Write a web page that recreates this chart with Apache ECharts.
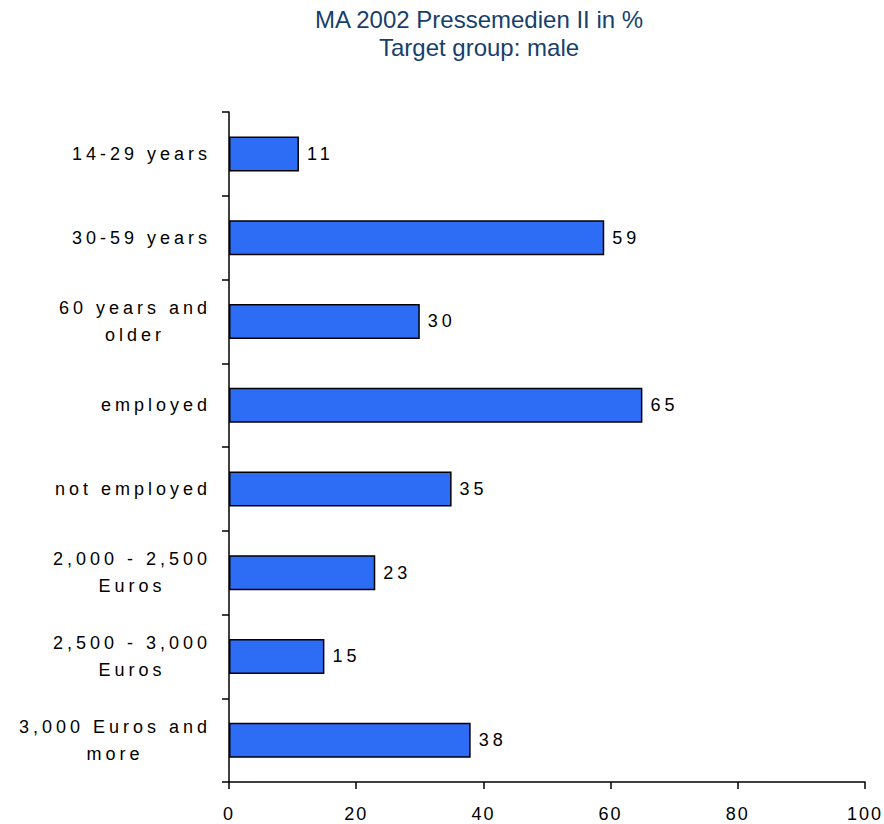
<!DOCTYPE html>
<html>
<head>
<meta charset="utf-8">
<script src="https://cdn.jsdelivr.net/npm/echarts@6/dist/echarts.min.js"></script>
<style>
  html, body { margin: 0; padding: 0; background: #fff; }
  #chart { width: 884px; height: 824px; }
  /* the source chart draws its axis texts with wide letter spacing */
  #chart svg text:not([fill="#173f6e"]) { letter-spacing: 4px; }
  #chart svg text[fill="#000001"] { letter-spacing: 2px; }
</style>
</head>
<body>
<div id="chart"></div>
<script>
const categories = [
  '14-29 years',
  '30-59 years',
  '60 years and\nolder',
  'employed',
  'not employed',
  '2,000 - 2,500\nEuros',
  '2,500 - 3,000\nEuros',
  '3,000 Euros and\nmore'
]
const values = [11, 59, 30, 65, 35, 23, 15, 38]
const xTicks = [0, 20, 40, 60, 80, 100]

const FONT = 'Liberation Sans, Arial, sans-serif'
const LS = 4 // letter spacing, see css

// width of each category label, so wrapped lines can be centred on each other
const ctx = document.createElement('canvas').getContext('2d')
ctx.font = '18px "Liberation Sans"'
const rich = {}
categories.forEach((c, i) => {
  const w = Math.max(...c.split('\n').map(l => ctx.measureText(l).width + LS * l.length))
  rich['c' + i] = { width: w, align: 'center', fontSize: 18, lineHeight: 27, color: '#000', fontFamily: FONT }
})

const chart = echarts.init(document.getElementById('chart'), null, { renderer: 'svg' })
chart.setOption({
  animation: false,
  title: {
    text: 'MA 2002 Pressemedien II in %\nTarget group: male',
    left: 479,
    top: 5,
    padding: 0,
    textAlign: 'center',
    textStyle: {
      color: '#173f6e',
      fontFamily: FONT,
      fontSize: 24,
      fontWeight: 'normal',
      lineHeight: 28
    }
  },
  grid: { left: 229, right: 19, top: 112, bottom: 42 },
  xAxis: {
    type: 'value',
    min: xTicks[0],
    max: xTicks[xTicks.length - 1],
    interval: 20,
    splitLine: { show: false },
    axisLine: { show: true, lineStyle: { color: '#000', width: 1.5 } },
    axisTick: { show: true, length: 7, lineStyle: { color: '#000', width: 1.5 } },
    axisLabel: { color: '#000001', fontSize: 18, fontFamily: FONT, margin: 23 }
  },
  yAxis: {
    type: 'category',
    data: categories,
    inverse: true,
    axisLine: { show: true, lineStyle: { color: '#000', width: 1.5 } },
    axisTick: { show: true, length: 7, lineStyle: { color: '#000', width: 1.5 } },
    axisLabel: {
      interval: 0,
      margin: 18,
      formatter: (value) => {
        const i = categories.indexOf(value)
        return value.split('\n').map(l => '{c' + i + '|' + l + '}').join('\n')
      },
      rich: rich
    }
  },
  series: [{
    type: 'bar',
    data: values,
    barWidth: 35,
    itemStyle: { color: '#2d6df6', borderColor: '#000', borderWidth: 1.5 },
    label: {
      show: true,
      position: 'right',
      distance: 8,
      color: '#000',
      fontSize: 18,
      fontFamily: FONT
    }
  }]
})
</script>
</body>
</html>
